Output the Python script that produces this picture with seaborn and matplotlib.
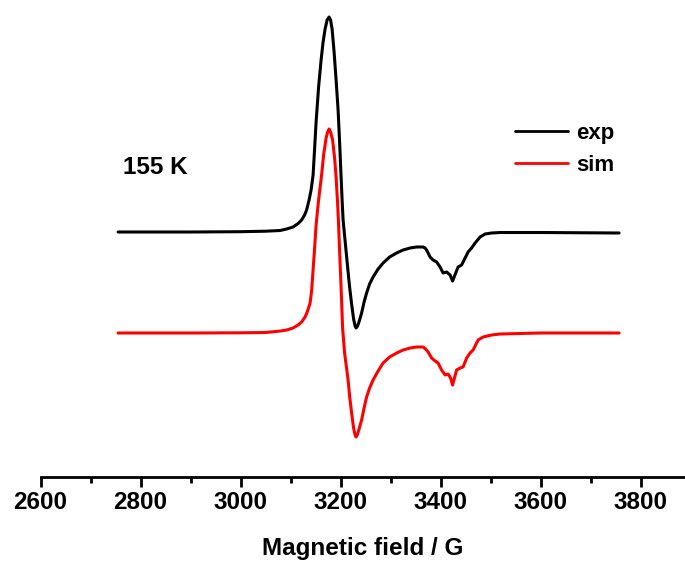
import matplotlib
matplotlib.use("Agg")
import matplotlib.pyplot as plt
import seaborn as sns
import pandas as pd
from matplotlib.ticker import MultipleLocator

# ---- data (arbitrary intensity units) ----
exp_field = [2755, 2900, 3000, 3050, 3079, 3092, 3105, 3115, 3122, 3128, 3132, 3137,
             3141, 3145, 3148, 3151, 3156, 3161, 3165, 3169, 3173, 3177, 3180, 3183,
             3187, 3191, 3195, 3198, 3201, 3203, 3205, 3210, 3215, 3218, 3222, 3226,
             3229, 3231, 3234, 3238, 3242, 3247, 3252, 3258, 3265, 3275, 3285, 3298,
             3312, 3325, 3339, 3352, 3365, 3369, 3372, 3379, 3385, 3392, 3399, 3405,
             3412, 3419, 3424, 3431, 3435, 3442, 3449, 3455, 3462, 3469, 3479, 3489,
             3502, 3519, 3600, 3757]
exp_int = [0, 0, 0.3, 0.8, 1.5, 3, 5, 8.5, 12, 17, 22, 32,
           42, 57, 83, 110, 145, 172, 190, 203, 212, 215, 212, 203,
           180, 152, 122, 90, 55, 32, 12, -14, -40, -55, -72, -87,
           -94, -96, -94, -88, -81, -70, -61, -52, -45, -37, -31, -25,
           -21, -18, -16, -15, -15, -16, -18, -25, -28, -30, -35, -41,
           -40, -43, -49, -40, -35, -33, -26, -20, -16, -11, -5, -2,
           -1, -0.5, -0.5, -1]

sim_field = [2755, 2900, 3000, 3050, 3080, 3092, 3105, 3115, 3122, 3129, 3134, 3139,
             3142, 3145, 3148, 3151, 3156, 3162, 3166, 3171, 3174, 3177, 3180, 3184,
             3188, 3191, 3194, 3196, 3198, 3201, 3204, 3208, 3215, 3218, 3222, 3226,
             3229, 3231, 3234, 3238, 3242, 3247, 3252, 3258, 3265, 3275, 3285, 3298,
             3312, 3325, 3339, 3352, 3365, 3370, 3375, 3382, 3389, 3395, 3402, 3409,
             3415, 3420, 3424, 3432, 3439, 3445, 3452, 3459, 3465, 3475, 3485, 3502,
             3519, 3600, 3757]
sim_int = [0, 0, 0.2, 0.5, 2, 3, 5, 8, 11, 16, 22, 30,
           42, 63, 85, 108, 133, 158, 178, 195, 201, 204, 201, 193,
           175, 156, 130, 108, 82, 45, 5, -20, -47, -63, -80, -95,
           -102, -104, -101, -94, -87, -75, -64, -55, -47, -38, -30, -24,
           -20, -17, -15, -14, -14, -16, -19, -25, -28, -30, -37, -42,
           -41, -45, -52, -37, -35, -34, -25, -20, -17, -7, -4, -2,
           -1, 0, 0]

sim_offset = -101
temperature_label = "155 K"
xlabel = "Magnetic field / G"

exp_df = pd.DataFrame({"field": exp_field, "intensity": exp_int})
sim_df = pd.DataFrame({"field": sim_field, "intensity": [v + sim_offset for v in sim_int]})

sns.set_theme(style="white")
plt.rcParams["font.family"] = ["Liberation Sans", "DejaVu Sans"]
plt.rcParams["font.weight"] = "bold"
plt.rcParams["text.color"] = "black"
plt.rcParams["xtick.color"] = "black"
plt.rcParams["axes.labelcolor"] = "black"

fig = plt.figure(figsize=(6.85, 5.66), dpi=100)
ax = fig.add_axes([40.6 / 685, (566 - 477) / 566, 1 - 40.6 / 685, (477 - 5) / 566])

sns.lineplot(data=exp_df, x="field", y="intensity", ax=ax, color="black",
             lw=2.2, label="exp", sort=False)
sns.lineplot(data=sim_df, x="field", y="intensity", ax=ax, color="#ff0000",
             lw=2.2, label="sim", sort=False)

ax.set_xlim(2600, 3888.8)
ax.set_ylim(-245, 227)

for s in ["left", "right", "top"]:
    ax.spines[s].set_visible(False)
ax.spines["bottom"].set_linewidth(2.0)
ax.spines["bottom"].set_color("black")

ax.xaxis.set_major_locator(MultipleLocator(200))
ax.xaxis.set_minor_locator(MultipleLocator(100))
ax.tick_params(axis="x", which="major", direction="out", length=7, width=2,
               color="black", labelcolor="black", labelsize=17.5, pad=3, bottom=True)
ax.tick_params(axis="x", which="minor", direction="out", length=4.3, width=2,
               color="black", bottom=True)
ax.set_yticks([])
for lab in ax.get_xticklabels():
    lab.set_fontweight("bold")

ax.set_xlabel(xlabel, fontsize=17.5, fontweight="bold", labelpad=17, color="black")
ax.set_ylabel("")

ax.text(2764, 64, temperature_label, fontsize=17.5, fontweight="bold",
        ha="left", va="center", color="black")

leg = ax.legend(loc="upper left", bbox_to_anchor=(515 / 685, 1 - 123 / 566),
                bbox_transform=fig.transFigure, frameon=False, borderpad=0,
                borderaxespad=0, handlelength=2.4, handletextpad=0.35,
                labelspacing=0.5, prop={"size": 16, "weight": "bold"})
for t in leg.get_texts():
    t.set_color("black")
for line in leg.get_lines():
    line.set_linewidth(2.0)

fig.savefig("out.png", dpi=100)
